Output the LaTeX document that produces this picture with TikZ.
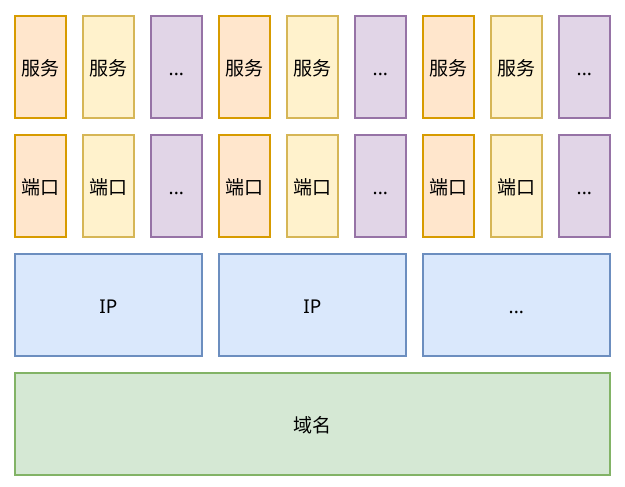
\documentclass[tikz,border=0pt]{standalone}
\usepackage{fontspec}
\setmainfont{Noto Sans}
\newfontfamily\cjk{Noto Sans CJK SC}
\usetikzlibrary{positioning}

\definecolor{orangefill}{HTML}{FFE6CC}
\definecolor{orangeline}{HTML}{D79B00}
\definecolor{yellowfill}{HTML}{FFF2CC}
\definecolor{yellowline}{HTML}{D6B656}
\definecolor{purplefill}{HTML}{E1D5E7}
\definecolor{purpleline}{HTML}{9673A6}
\definecolor{bluefill}{HTML}{DAE8FC}
\definecolor{blueline}{HTML}{6C8EBF}
\definecolor{greenfill}{HTML}{D5E8D4}
\definecolor{greenline}{HTML}{82B366}

\tikzset{
    box/.style={draw, line width=1.6pt, inner sep=0pt, anchor=north west,
        text height=20pt, text depth=3pt,
        font=\fontsize{19}{22}\selectfont},
    smallbox/.style={box, minimum width=51pt, minimum height=102pt},
    widebox/.style={box, minimum width=187pt, minimum height=102pt},
    orangebox/.style={smallbox, fill=orangefill, draw=orangeline},
    yellowbox/.style={smallbox, fill=yellowfill, draw=yellowline},
    purplebox/.style={smallbox, fill=purplefill, draw=purpleline},
    ipbox/.style={widebox, fill=bluefill, draw=blueline},
    domainbox/.style={box, fill=greenfill, draw=greenline, minimum width=595pt, minimum height=102pt}
}

\begin{document}
\begin{tikzpicture}[x=1pt, y=-1pt]
    \useasboundingbox (0, 0) rectangle (625, 487);

    % Services and ports, three groups
    \foreach \g in {0, 1, 2} {
        \node[orangebox] (srva\g) at (14 + 204*\g, 15) {\cjk 服务};
        \node[yellowbox] (srvb\g) at (82 + 204*\g, 15) {\cjk 服务};
        \node[purplebox] (srvc\g) at (150 + 204*\g, 15) {...};
        \node[orangebox] (porta\g) at (14 + 204*\g, 134) {\cjk 端口};
        \node[yellowbox] (portb\g) at (82 + 204*\g, 134) {\cjk 端口};
        \node[purplebox] (portc\g) at (150 + 204*\g, 134) {...};
    }

    % IP addresses
    \node[ipbox] (ip0) at (14, 253) {IP};
    \node[ipbox] (ip1) at (218, 253) {IP};
    \node[ipbox] (ip2) at (422, 253) {...};

    % Domain name
    \node[domainbox] (domain) at (14, 372) {\cjk 域名};
\end{tikzpicture}
\end{document}
